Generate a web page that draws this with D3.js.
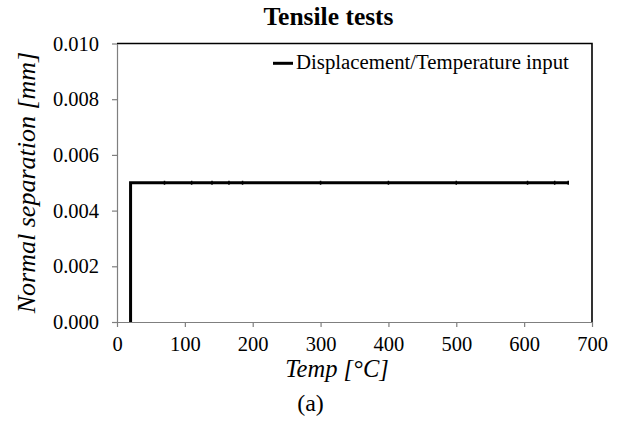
<!DOCTYPE html>
<html>
<head>
<meta charset="utf-8">
<script src="https://cdn.jsdelivr.net/npm/d3@7"></script>
<style>
body{margin:0;background:#fff;}
text{font-family:"Liberation Serif",Tinos,"Times New Roman",Times,"DejaVu Serif",serif;fill:#000;}
.axis path,.axis line{stroke:#7f7f7f;stroke-width:1.2;}
.axis text{font-size:20.5px;font-family:"Liberation Serif",Tinos,"Times New Roman",Times,"DejaVu Serif",serif;}
</style>
</head>
<body>
<svg id="chart" width="620" height="423"></svg>
<script>
// temperature input vs normal separation
const temp=[20,20,70,110,140,165,185,300,400,500,605,645,665];
const separation=[0,0.005,0.005,0.005,0.005,0.005,0.005,0.005,0.005,0.005,0.005,0.005,0.005];
const x_ticks=[0,100,200,300,400,500,600,700];
const y_ticks=[0,0.002,0.004,0.006,0.008,0.010];

const m={left:117,right:592,top:43.5,bot:322};
const svg=d3.select('#chart');

const x=d3.scaleLinear().domain([0,700]).range([m.left,m.right]);
const y=d3.scaleLinear().domain([0,0.010]).range([m.bot,m.top]);

// frame (top + right dark)
svg.append('path')
    .attr('d',`M ${m.left} ${m.top} H ${m.right} V ${m.bot}`)
    .attr('fill','none').attr('stroke','#000').attr('stroke-width',1.6);

svg.append('g').attr('class','axis')
    .attr('transform',`translate(0,${m.bot})`)
    .call(d3.axisBottom(x).tickValues(x_ticks).tickSize(5).tickSizeOuter(0).tickPadding(5))
    .call(g=>g.selectAll('text').attr('dy','0.93em'));

svg.append('g').attr('class','axis')
    .attr('transform',`translate(${m.left},0)`)
    .call(d3.axisLeft(y).tickValues(y_ticks).tickSize(5).tickSizeOuter(0).tickPadding(13).tickFormat(d3.format('.3f')));

const pts=temp.map((t,i)=>[t,separation[i]]);
svg.append('path')
    .datum(pts)
    .attr('fill','none').attr('stroke','#000').attr('stroke-width',3)
    .attr('d',d3.line().x(d=>x(d[0])).y(d=>y(d[1])));

// small point marks on the line
svg.append('g').selectAll('line')
    .data(pts.slice(2))
    .join('line')
    .attr('x1',d=>x(d[0])).attr('x2',d=>x(d[0]))
    .attr('y1',d=>y(d[1])-2).attr('y2',d=>y(d[1])+2)
    .attr('stroke','#000').attr('stroke-width',1.5);

// title + labels
svg.append('text').attr('x',328.5).attr('y',25).attr('text-anchor','middle')
    .style('font-size','25.5px').style('font-weight','bold').text('Tensile tests');
svg.append('text').attr('x',337).attr('y',377).attr('text-anchor','middle')
    .style('font-size','24.5px').style('font-style','italic').text('Temp [°C]');
svg.append('text').attr('transform','translate(35,182.5) rotate(-90)').attr('text-anchor','middle')
    .style('font-size','26px').style('font-style','italic').text('Normal separation [mm]');
svg.append('text').attr('x',310.5).attr('y',411).attr('text-anchor','middle')
    .style('font-size','24px').text('(a)');

// legend
svg.append('line').attr('x1',273).attr('x2',293).attr('y1',63.3).attr('y2',63.3)
    .attr('stroke','#000').attr('stroke-width',3);
svg.append('text').attr('x',296).attr('y',68.5).style('font-size','20.8px')
    .text('Displacement/Temperature input');
</script>
</body>
</html>
